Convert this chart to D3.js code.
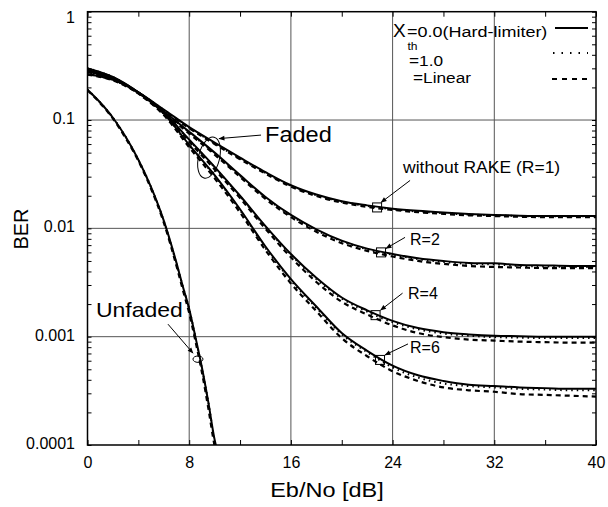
<!DOCTYPE html>
<html>
<head>
<meta charset="utf-8">
<script src="https://cdn.jsdelivr.net/npm/d3@7"></script>
<style>
  body { margin: 0; background: #fff; }
  svg { display: block; }
  text { font-family: "Liberation Sans", Arial, sans-serif; fill: #000; }
  .tick text { font-size: 16px; }
  .tick line { stroke: #000; stroke-width: 1; }
</style>
</head>
<body>
<svg id="chart" width="608" height="507"></svg>
<script>
// Eb/No points for the faded curves
var snrFaded = [0,2,4,6,8,10,12,14,16,18,20,22,24,26,28,30,32,34,36,38,40];

// without RAKE (R=1)
var r1Hard   = [0.265,0.235,0.18,0.125,0.086,0.062,0.045,0.033,0.025,0.0205,0.0178,0.0163,0.0152,0.0145,0.014,0.0136,0.0133,0.0131,0.013,0.013,0.013];
var r1One    = [0.265,0.234,0.179,0.124,0.085,0.061,0.044,0.0325,0.0247,0.0202,0.0176,0.0161,0.015,0.0143,0.0138,0.0134,0.0132,0.013,0.0129,0.0129,0.0129];
var r1Linear = [0.262,0.232,0.177,0.122,0.084,0.06,0.0435,0.032,0.0243,0.0199,0.0173,0.0158,0.0148,0.0141,0.0136,0.0132,0.013,0.0128,0.0127,0.0127,0.0127];
// R=2
var r2Hard   = [0.28,0.24,0.18,0.12,0.078,0.05,0.031,0.0195,0.0133,0.0098,0.0077,0.0065,0.0058,0.0053,0.005,0.0048,0.00475,0.0046,0.00455,0.0045,0.0045];
var r2One    = [0.28,0.239,0.179,0.119,0.077,0.049,0.0305,0.0192,0.0131,0.0096,0.0076,0.0064,0.0057,0.0052,0.0049,0.0047,0.00465,0.0045,0.00445,0.0044,0.0044];
var r2Linear = [0.277,0.237,0.177,0.117,0.075,0.048,0.0298,0.0187,0.0127,0.0093,0.0073,0.0062,0.0055,0.005,0.0047,0.0045,0.0044,0.00435,0.0043,0.0043,0.0043];
// R=4
var r4Hard   = [0.29,0.245,0.18,0.118,0.066,0.037,0.02,0.0105,0.0058,0.0035,0.0023,0.00175,0.0014,0.0012,0.0011,0.00105,0.00102,0.00101,0.001,0.001,0.001];
var r4One    = [0.29,0.244,0.179,0.117,0.065,0.0365,0.0197,0.0103,0.0057,0.0034,0.00225,0.0017,0.00136,0.00117,0.00107,0.00102,0.00099,0.00098,0.00097,0.00097,0.00097];
var r4Linear = [0.287,0.242,0.176,0.114,0.063,0.035,0.019,0.0099,0.0054,0.0032,0.0021,0.0016,0.00127,0.00108,0.00099,0.00094,0.00092,0.0009,0.00089,0.00088,0.00088];
// R=6
var r6Hard   = [0.30,0.25,0.18,0.115,0.059,0.031,0.015,0.0068,0.0034,0.0019,0.00108,0.00074,0.00054,0.00044,0.00039,0.00036,0.00035,0.00034,0.000335,0.00033,0.00033];
var r6One    = [0.30,0.249,0.179,0.114,0.058,0.0305,0.0147,0.0066,0.0033,0.00185,0.00105,0.00072,0.00052,0.00042,0.00037,0.00035,0.00034,0.00033,0.000325,0.00032,0.00032];
var r6Linear = [0.297,0.247,0.176,0.111,0.056,0.029,0.014,0.0063,0.0031,0.00172,0.00097,0.00066,0.00048,0.00039,0.00034,0.00032,0.00031,0.000295,0.00029,0.000285,0.00028];

// unfaded channel
var snrUnfaded    = [0,1,2,3,4,5,6,7,7.5,8,8.5,9,9.5,10,10.3];
var unfadedHard   = [0.19,0.145,0.105,0.07,0.043,0.024,0.0118,0.0048,0.0029,0.0018,0.00098,0.00052,0.00025,0.000112,0.00008];
var unfadedOne    = [0.19,0.145,0.105,0.07,0.043,0.024,0.0117,0.0047,0.0029,0.0018,0.00097,0.00051,0.00025,0.00011,0.00008];
var unfadedLinear = [0.188,0.143,0.103,0.068,0.042,0.0232,0.0113,0.0045,0.0027,0.00165,0.0009,0.00047,0.00022,0.000098,0.00007];

// R markers (square) on the curves
var markerLabels = ["without RAKE (R=1)","R=2","R=4","R=6"];
var markerSnr    = [22.78,23.09,22.66,23.01];
var markerBer    = [0.0156,0.006,0.00158,0.00061];

var xTicks = [0,4,8,12,16,20,24,28,32,36,40];
var xLabels = [0,8,16,24,32,40];
var yLabels = [1,0.1,0.01,0.001,0.0001];

var W=608,H=507;
var margin={top:11.7,right:12,bottom:62,left:87.5};
var w=W-margin.left-margin.right, h=H-margin.top-margin.bottom;

var svg=d3.select("#chart");
var defs=svg.append("defs");
defs.append("clipPath").attr("id","plotClip")
    .append("rect").attr("width",w).attr("height",h);
defs.append("marker").attr("id","arrow")
    .attr("viewBox","0 0 10 10").attr("refX",9).attr("refY",5)
    .attr("markerWidth",7).attr("markerHeight",6).attr("markerUnits","userSpaceOnUse")
    .attr("orient","auto")
    .append("path").attr("d","M0,1 L10,5 L0,9 z").attr("fill","#000");

var g=svg.append("g").attr("transform","translate("+margin.left+","+margin.top+")");

var x=d3.scaleLinear().domain([0,40]).range([0,w]);
var y=d3.scaleLog().domain([1e-4,1]).range([h,0]);

//grid
g.append("g").selectAll("line.vg").data([8,16,24,32]).enter().append("line")
    .attr("x1",function(d){return x(d)}).attr("x2",function(d){return x(d)})
    .attr("y1",0).attr("y2",h).attr("stroke","#555").attr("stroke-width",1);
g.append("g").selectAll("line.hg").data([0.1,0.01,0.001]).enter().append("line")
    .attr("y1",function(d){return y(d)}).attr("y2",function(d){return y(d)})
    .attr("x1",0).attr("x2",w).attr("stroke","#555").attr("stroke-width",1);

//minor y ticks
var yTicks=[];
[1e-4,1e-3,1e-2,1e-1].forEach(function(dec){
    for(var k=1;k<10;k++) yTicks.push(dec*k);
});
yTicks.push(1);

var xb=g.append("g").attr("transform","translate(0,"+h+")")
    .call(d3.axisBottom(x).tickValues(xTicks).tickSize(-5).tickPadding(11.6)
        .tickFormat(function(d){return xLabels.indexOf(d)>=0?d:""}));
var xt=g.append("g")
    .call(d3.axisTop(x).tickValues(xTicks).tickSize(-5).tickFormat(""));
var yl=g.append("g")
    .call(d3.axisLeft(y).tickValues(yTicks).tickSize(-4).tickPadding(12.5)
        .tickFormat(function(d){
            for(var i=0;i<yLabels.length;i++){ if(Math.abs(d-yLabels[i])<yLabels[i]*1e-6) return String(yLabels[i]); }
            return "";
        }));
var yr=g.append("g").attr("transform","translate("+w+",0)")
    .call(d3.axisRight(y).tickValues(yTicks).tickSize(-4).tickFormat(""));
[xb,xt,yl,yr].forEach(function(a){a.select(".domain").remove()});
yl.selectAll(".tick text").attr("dy",function(d){return d>=1?"0.65em":"0.22em"});

//curves
var line=d3.line()
    .x(function(d){return x(d[0])})
    .y(function(d){return y(d[1])})
    .curve(d3.curveMonotoneX);
function zip(xs,ys){return xs.map(function(v,i){return [v,ys[i]]})}

var curves=g.append("g").attr("clip-path","url(#plotClip)");
var sets=[
    [snrFaded,r1Hard,r1One,r1Linear],
    [snrFaded,r2Hard,r2One,r2Linear],
    [snrFaded,r4Hard,r4One,r4Linear],
    [snrFaded,r6Hard,r6One,r6Linear],
    [snrUnfaded,unfadedHard,unfadedOne,unfadedLinear]
];
sets.forEach(function(s){
    curves.append("path").attr("d",line(zip(s[0],s[3])))
        .attr("fill","none").attr("stroke","#000").attr("stroke-width",2.2)
        .attr("stroke-dasharray","5,4");
    curves.append("path").attr("d",line(zip(s[0],s[2])))
        .attr("fill","none").attr("stroke","#000").attr("stroke-width",2)
        .attr("stroke-dasharray","1.5,4");
    curves.append("path").attr("d",line(zip(s[0],s[1])))
        .attr("fill","none").attr("stroke","#000").attr("stroke-width",2);
});

//frame
g.append("rect").attr("width",w).attr("height",h)
    .attr("fill","none").attr("stroke","#000").attr("stroke-width",1.5);

//helper for stretched text
function label(px,py,txt,size,sx,anchor){
    return g.append("text")
        .attr("transform","translate("+px+","+py+") scale("+sx+",1)")
        .attr("text-anchor",anchor||"start")
        .style("font-size",size+"px")
        .text(txt);
}
function arrow(x1,y1,x2,y2){
    g.append("line").attr("x1",x1).attr("y1",y1).attr("x2",x2).attr("y2",y2)
        .attr("stroke","#000").attr("stroke-width",1).attr("marker-end","url(#arrow)");
}

//R markers
var offs=[
    {lx:26,ly:-34.5,ax:33,ay:-27,bx:4,by:-5,size:17,sx:1.03},
    {lx:29,ly:-7.5,ax:24,ay:-15,bx:5,by:-4,size:16,sx:1},
    {lx:32.5,ly:-15.7,ax:27,ay:-22,bx:5,by:-5,size:16,sx:1},
    {lx:30,ly:-6.7,ax:28,ay:-16,bx:5,by:-5,size:16,sx:1}
];
markerLabels.forEach(function(t,i){
    var cx=x(markerSnr[i]), cy=y(markerBer[i]), o=offs[i];
    g.append("rect").attr("x",cx-4.5).attr("y",cy-4.5).attr("width",9).attr("height",9)
        .attr("fill","none").attr("stroke","#000").attr("stroke-width",1);
    arrow(cx+o.ax,cy+o.ay,cx+o.bx,cy+o.by);
    label(cx+o.lx,cy+o.ly,t,o.size,o.sx);
});

//Faded annotation
var fx=x(9.56), fy=y(0.045);
g.append("ellipse").attr("cx",0).attr("cy",0).attr("rx",10.5).attr("ry",21)
    .attr("transform","translate("+fx+","+fy+") rotate(14)")
    .attr("fill","none").attr("stroke","#000").attr("stroke-width",1);
arrow(fx+52,fy-22.5,fx+10,fy-19);
label(fx+56,fy-15.5,"Faded",22,1.07);

//Unfaded annotation
var ux=x(8.69), uy=y(0.00062);
g.append("ellipse").attr("cx",ux).attr("cy",uy).attr("rx",5).attr("ry",3.2)
    .attr("fill","none").attr("stroke","#000").attr("stroke-width",1);
arrow(ux-30,uy-35,ux-5,uy-6);
label(ux-102,uy-42,"Unfaded",20,1.15);

//legend
var lg=g.append("g");
label(393-margin.left,37-margin.top,"X",19,1.0);
label(407.5-margin.left,50-margin.top,"th",11,1.1);
label(407-margin.left,37-margin.top,"=0.0(Hard-limiter)",15,1.2);
label(409-margin.left,65.5-margin.top,"=1.0",15,1.15);
label(413-margin.left,83-margin.top,"=Linear",15,1.15);
lg.append("line").attr("x1",555-margin.left).attr("x2",588-margin.left)
    .attr("y1",28-margin.top).attr("y2",28-margin.top).attr("stroke","#000").attr("stroke-width",2);
lg.append("line").attr("x1",553-margin.left).attr("x2",588-margin.left)
    .attr("y1",53-margin.top).attr("y2",53-margin.top).attr("stroke","#000").attr("stroke-width",2)
    .attr("stroke-dasharray","1.5,7");
lg.append("line").attr("x1",552-margin.left).attr("x2",588-margin.left)
    .attr("y1",79-margin.top).attr("y2",79-margin.top).attr("stroke","#000").attr("stroke-width",2)
    .attr("stroke-dasharray","5,5");

//axis titles
svg.append("text").attr("x",W/2+23).attr("y",497)
    .attr("text-anchor","middle").style("font-size","21px")
    .attr("transform","translate("+(W/2+23)+",0) scale(1.12,1) translate("+(-(W/2+23))+",0)")
    .text("Eb/No [dB]");
svg.append("text").attr("transform","translate(28,229) rotate(-90)")
    .attr("text-anchor","middle").style("font-size","20px").text("BER");
</script>
</body>
</html>
